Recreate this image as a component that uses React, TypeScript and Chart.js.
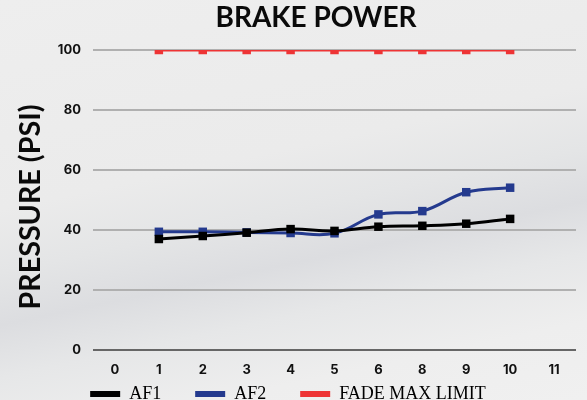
import React, { useEffect, useRef } from "react";
import { Chart, registerables } from "chart.js";

Chart.register(...registerables);

const categories = ["0", "1", "2", "3", "4", "5", "6", "8", "9", "10", "11"];
const af1 = [null, 37, 38, 39.1, 40.3, 39.7, 41.1, 41.4, 42.1, 43.7, null];
const af2 = [null, 39.4, 39.4, 39.2, 39.0, 38.9, 45.2, 46.3, 52.6, 54.1, null];
const fadeMax = [null, 100, 100, 100, 100, 100, 100, 100, 100, 100, null];
const seriesNames = ["AF1", "AF2", "FADE MAX LIMIT"];
const chartTitle = "BRAKE POWER";
const yTitle = "PRESSURE (PSI)";

const LEGEND_PAD = 34;
const LEGEND_FONT = 18;

const textPlugin = {
  id: "customTexts",
  beforeUpdate(chart: any) {
    const lg = chart.legend;
    if (lg && !lg.__patched) {
      const orig = lg.fit.bind(lg);
      lg.fit = function () {
        orig();
        this.height = 23;
      };
      lg.__patched = true;
    }
  },
  afterLayout(chart: any) {
    const lg = chart.legend;
    if (lg) {
      const top = 394 - LEGEND_PAD - LEGEND_FONT / 2;
      lg.top = top;
      lg.bottom = chart.height;
      lg.height = chart.height - top;
    }
  },
  afterDraw(chart: any) {
    const ctx = chart.ctx;
    ctx.save();
    ctx.fillStyle = "#0a0a0a";
    ctx.textAlign = "center";
    ctx.textBaseline = "middle";
    ctx.font = "bold 28px Lato";
    ctx.fillText(chartTitle, 316, 18);
    ctx.translate(31, 207);
    ctx.rotate(-Math.PI / 2);
    ctx.font = "bold 29px Lato";
    ctx.fillText(yTitle, 0, 0, 205);
    ctx.restore();
  },
};

export default function App() {
  const ref = useRef<HTMLCanvasElement | null>(null);
  useEffect(() => {
    document.body.style.margin = "0";
    const mk = (label: string, data: any[], color: string) => ({
      label,
      data,
      borderColor: color,
      backgroundColor: color,
      borderWidth: 3,
      tension: 0.4,
      pointStyle: "rect",
      pointRadius: 6,
      pointBorderWidth: 0,
      pointBackgroundColor: color,
    });
    const chart = new Chart(ref.current as HTMLCanvasElement, {
      type: "line",
      data: {
        labels: categories,
        datasets: [
          mk(seriesNames[0], af1, "#000000"),
          mk(seriesNames[1], af2, "#243a8e"),
          mk(seriesNames[2], fadeMax, "#ee3435"),
        ],
      },
      options: {
        responsive: false,
        animation: false,
        layout: { padding: { top: 50, right: 11, left: 0, bottom: 0 } },
        plugins: {
          title: { display: false },
          tooltip: { enabled: false },
          legend: {
            position: "bottom",
            labels: {
              boxWidth: 30,
              boxHeight: 6,
              padding: LEGEND_PAD,
              color: "#1a1a1a",
              font: { family: "Liberation Serif", size: LEGEND_FONT },
              generateLabels: (chart: any) =>
                chart.data.datasets.map((d: any, i: number) => ({
                  text: d.label,
                  fillStyle: d.borderColor,
                  strokeStyle: d.borderColor,
                  lineWidth: 0,
                  datasetIndex: i,
                  hidden: false,
                })),
            },
          },
        },
        scales: {
          x: {
            type: "category",
            offset: true,
            grid: { display: false, drawTicks: false },
            border: { display: false },
            ticks: {
              padding: 12,
              color: "#111",
              font: { family: "Inter", size: 13, weight: "bold" },
              autoSkip: false,
              maxRotation: 0,
            },
            afterFit: (s: any) => {
              s.height = 27;
            },
          },
          y: {
            min: 0,
            max: 100,
            grid: {
              drawTicks: false,
              lineWidth: 2,
              color: (c: any) => (c.tick && c.tick.value === 0 ? "#666666" : "#b0b0b0"),
            },
            border: { display: false },
            ticks: {
              stepSize: 20,
              padding: 12,
              color: "#111",
              font: { family: "Inter", size: 13, weight: "bold" },
            },
            afterFit: (s: any) => {
              s.width = 93;
            },
          },
        },
      },
      plugins: [textPlugin],
    } as any);
    return () => chart.destroy();
  }, []);

  return (
    <div
      style={{
        position: "absolute",
        left: 0,
        top: 0,
        width: 587,
        height: 400,
        background:
          "linear-gradient(168deg, #eeeeee 0%, #ebebeb 40%, #e4e5e6 52%, #dcdde0 62%, #e6e7e8 72%, #eeeeee 85%, #f0f0f0 100%)",
      }}
    >
      <canvas ref={ref} width={587} height={400} style={{ display: "block" }} />
    </div>
  );
}
